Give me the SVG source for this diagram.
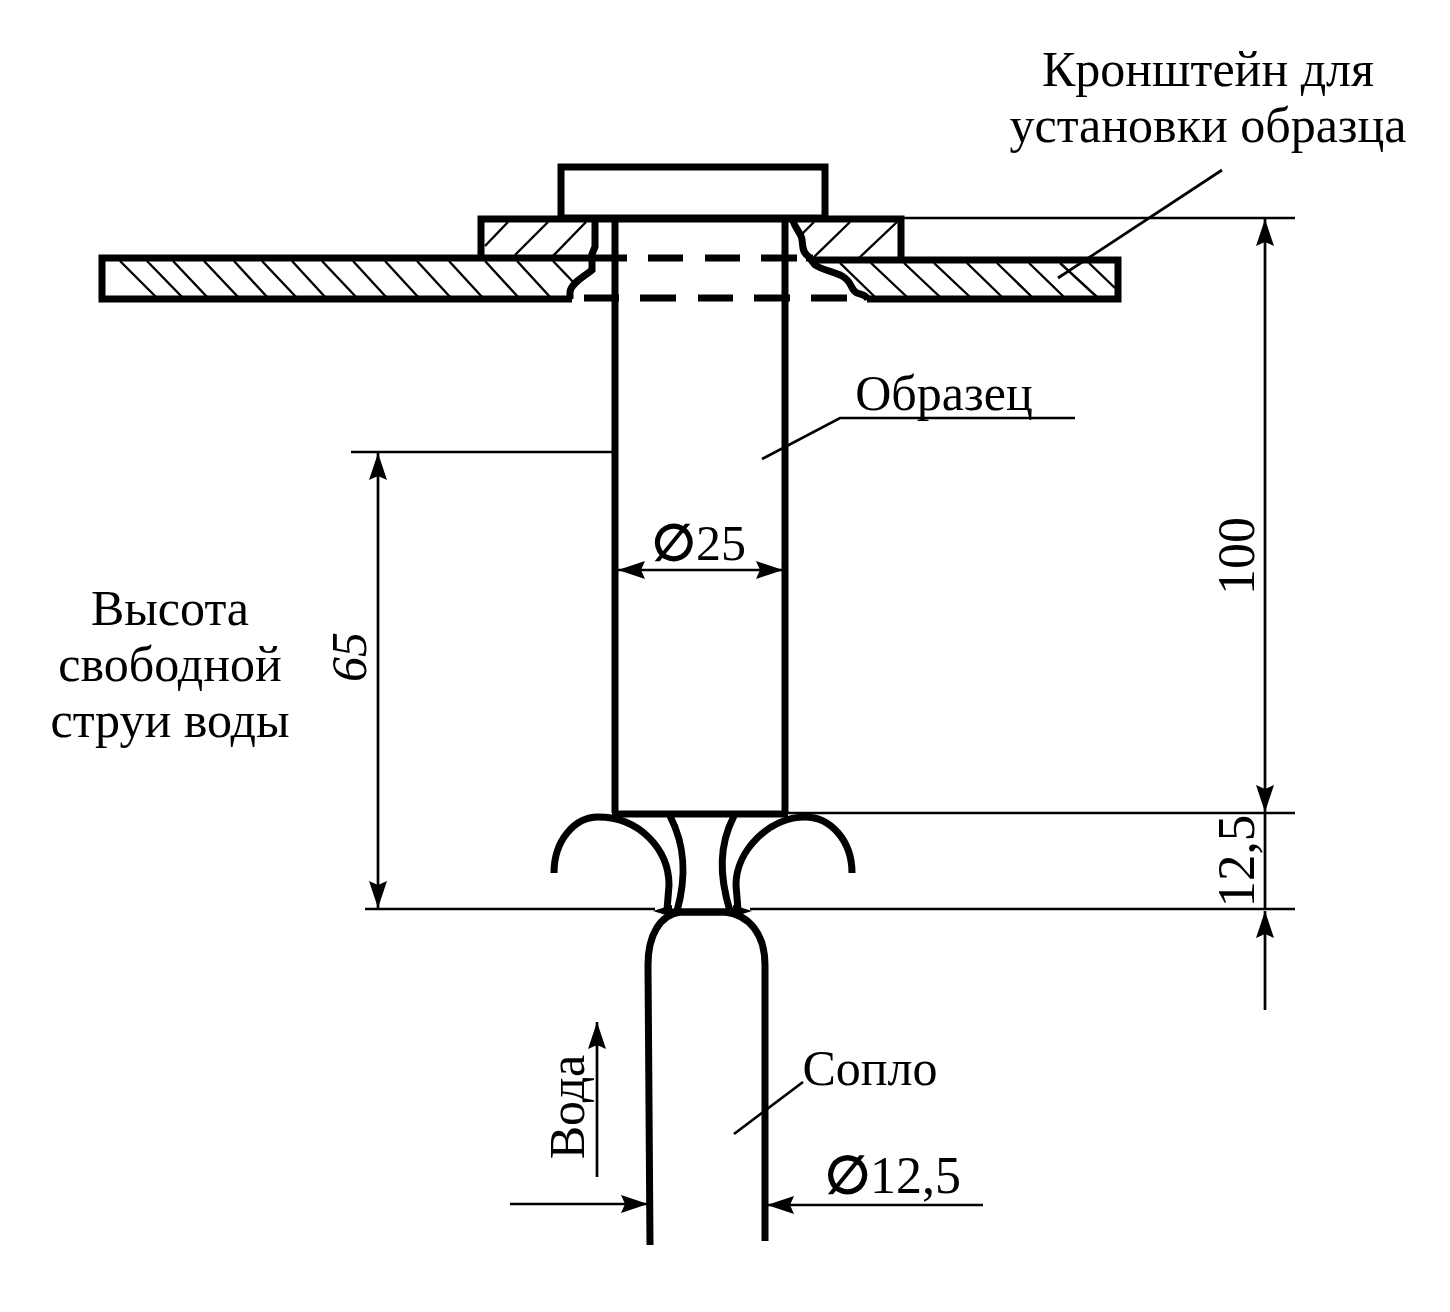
<svg xmlns="http://www.w3.org/2000/svg" width="1450" height="1312" viewBox="0 0 1450 1312">
<style>
text{font-family:"Liberation Serif","Times New Roman",serif;font-size:50px;fill:#000}
.t{fill:none;stroke:#000;stroke-width:7}
.h{fill:none;stroke:#000;stroke-width:2.4}
.d{fill:none;stroke:#000;stroke-width:7}
.a{fill:none;stroke:#000;stroke-width:2.7}
.m{text-anchor:middle}
.o{stroke:#000;stroke-width:2}
</style>
<defs>
<marker id="ar" markerUnits="userSpaceOnUse" markerWidth="30" markerHeight="20" refX="27" refY="10" orient="auto-start-reverse"><path d="M0 1L27 10L0 19L4 10Z" fill="#000"/></marker>
</defs>
<rect width="1450" height="1312" fill="#fff"/>
<g id="hatching">
<path class="h" d="M120 261L157 298M147 261L183 298M173 261L208 298M204 261L239 298M234 261L268 298M262 261L297 298M292 261L326 298M322 261L357 298M353 261L387 298M385 261L419 298M417 261L451 298M449 261L483 298M485 261L519 298M517 261L551 298M553 261L577 286"/>
<path class="h" d="M508 222L485 246M548 222L515 255M586 222L552 257"/>
<path class="h" d="M814 222L802 234M850 222L814 257M897 222L859 258"/>
<path class="h" d="M840 263L875 297M871 263L907 297M904 263L940 297M934 263L970 297M967 263L1002 297M997 263L1032 297M1029 263L1064 297M1060 263L1097 297M1089 263L1115 288"/>
</g>
<g id="bracket">
<rect class="t" x="561" y="167" width="264" height="51"/>
<path class="t" d="M481 258V219H901V258"/>
<path class="t" d="M572 299H102V258H590"/>
<path class="t" d="M570 299V292C571 283 585 276 592 270V254L595 247V220"/>
<path class="t" d="M812 260H1118V299H867"/>
<path class="t" d="M793 221C796 230 802 234 802 240C803 246 802 252 808 256L815 265C822 270 835 272 842 276C853 282 850 290 857 293C862 295 867 295 868 300"/>
<path class="d" d="M590 258H627M648 258H683M705 258H740M761 258H797M806 258H813"/>
<path class="d" d="M584 298H619M640 298H676M698 298H733M754 298H790M811 298H847"/>
</g>
<g id="sample">
<path class="t" d="M615 219V813M785 219V813M612 814H788"/>
</g>
<g id="nozzle">
<path class="t" d="M650 1245L648 965C648 935 660 915 680 912H725C750 915 765 935 765 965V1241"/>
</g>
<g id="water-jet">
<path class="t" d="M554 873C554 840 575 817 598 817C640 817 669 850 669 885L667 910"/>
<path class="t" d="M852 873C852 840 830 817 805 817C770 817 736 850 736 885L738 910"/>
<path class="t" d="M670 816C685 845 687 875 677 911"/>
<path class="t" d="M734 816C719 845 719 875 730 911"/>
<path class="t" d="M665 912H740"/>
<path d="M653 911L672 905V917ZM752 911L733 905V917Z" fill="#000"/>
</g>
<g id="connectors">
<path class="a" d="M901 218H1295M788 813H1295M365 909H655M750 909H1295M351 452H613"/>
<path class="a" marker-start="url(#ar)" marker-end="url(#ar)" d="M1265 219V812"/>
<path class="a" marker-start="url(#ar)" marker-end="url(#ar)" d="M378 453V908"/>
<path class="a" marker-start="url(#ar)" marker-end="url(#ar)" d="M618 570H783"/>
<path class="a" d="M1265 813V908"/>
<path class="a" marker-end="url(#ar)" d="M1265 1010V911"/>
<path class="a" d="M1222 170L1058 278"/>
<path class="a" d="M762 459L840 418H1075"/>
<path class="a" d="M734 1134L803 1082"/>
<path class="a" marker-end="url(#ar)" d="M597 1177V1022"/>
<path class="a" marker-end="url(#ar)" d="M510 1204H648"/>
<path class="a" marker-end="url(#ar)" d="M983 1205H767"/>
</g>
<g id="labels">
<text class="m" x="1208" y="86">Кронштейн для</text>
<text class="m" x="1208" y="142">установки образца</text>
<text class="m" x="944" y="410">Образец</text>
<text class="m" x="170" y="625">Высота</text>
<text class="m" x="170" y="681">свободной</text>
<text class="m" x="170" y="737">струи воды</text>
<text x="652" y="560"><tspan class="o">∅</tspan>25</text>
<text class="m" transform="translate(1254 556) rotate(-90)" style="font-size:52px">100</text>
<text class="m" transform="translate(366 657) rotate(-90)" font-style="italic">65</text>
<text class="m" transform="translate(1254 861) rotate(-90)" style="font-size:53px">12,5</text>
<text class="m" transform="translate(584 1107) rotate(-90)">Вода</text>
<text class="m" x="870" y="1085">Сопло</text>
<text x="825" y="1193" style="font-size:52px"><tspan class="o">∅</tspan>12,5</text>
</g>
</svg>
